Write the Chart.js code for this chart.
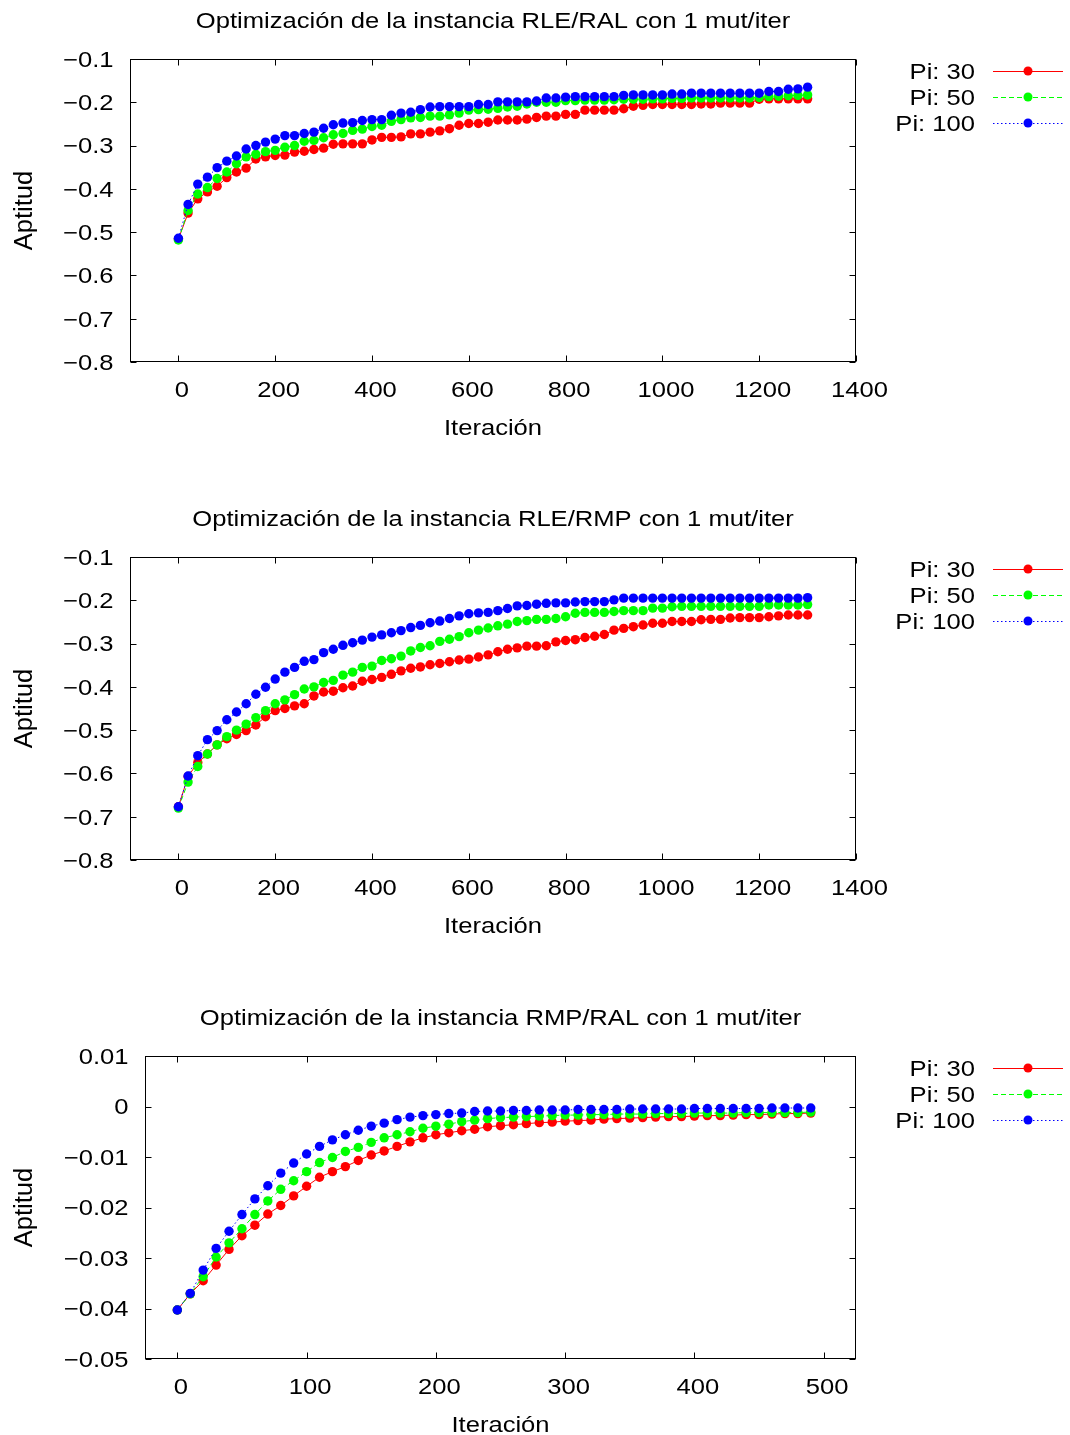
<!DOCTYPE html>
<html><head><meta charset="utf-8">
<script src="https://cdn.jsdelivr.net/npm/chart.js@4/dist/chart.umd.min.js"></script>
<style>
html,body{margin:0;padding:0;background:#fff;overflow:hidden;width:1070px;height:1435px}
canvas.c{position:absolute;left:0}
</style></head><body>
<canvas id="c1" class="c" width="1070" height="498" style="top:0px"></canvas>
<canvas id="c2" class="c" width="1070" height="498" style="top:498px"></canvas>
<canvas id="c3" class="c" width="1070" height="438" style="top:997px"></canvas>
<script>
// ---------- DATA ----------
const seriesLabels = ['Pi: 30', 'Pi: 50', 'Pi: 100'];

const iterLong = [0,20,40,60,80,100,120,140,160,180,200,220,240,260,280,300,320,340,360,380,400,420,440,460,480,500,520,540,560,580,600,620,640,660,680,700,720,740,760,780,800,820,840,860,880,900,920,940,960,980,1000,1020,1040,1060,1080,1100,1120,1140,1160,1180,1200,1220,1240,1260,1280,1300];
const iterShort = [0,10,20,30,40,50,60,70,80,90,100,110,120,130,140,150,160,170,180,190,200,210,220,230,240,250,260,270,280,290,300,310,320,330,340,350,360,370,380,390,400,410,420,430,440,450,460,470,480,490];

// RLE/RAL
const rleRal30 = [-0.516,-0.456,-0.423,-0.407,-0.394,-0.374,-0.361,-0.352,-0.331,-0.326,
 -0.323,-0.322,-0.315,-0.313,-0.309,-0.306,-0.297,-0.296,-0.296,-0.296,
 -0.287,-0.281,-0.281,-0.280,-0.273,-0.273,-0.269,-0.266,-0.261,-0.253,
 -0.249,-0.249,-0.246,-0.241,-0.241,-0.241,-0.239,-0.235,-0.232,-0.232,
 -0.228,-0.228,-0.218,-0.218,-0.218,-0.218,-0.215,-0.209,-0.207,-0.205,
 -0.205,-0.205,-0.205,-0.205,-0.204,-0.204,-0.202,-0.202,-0.202,-0.202,
 -0.193,-0.192,-0.192,-0.192,-0.192,-0.192];
const rleRal50 = [-0.518,-0.450,-0.412,-0.397,-0.376,-0.361,-0.342,-0.326,-0.320,-0.314,
 -0.311,-0.304,-0.300,-0.290,-0.288,-0.282,-0.275,-0.272,-0.265,-0.262,
 -0.256,-0.253,-0.244,-0.240,-0.236,-0.235,-0.232,-0.232,-0.229,-0.225,
 -0.218,-0.217,-0.216,-0.214,-0.211,-0.209,-0.204,-0.200,-0.200,-0.200,
 -0.196,-0.196,-0.195,-0.195,-0.195,-0.194,-0.193,-0.193,-0.193,-0.192,
 -0.192,-0.191,-0.191,-0.190,-0.190,-0.190,-0.190,-0.190,-0.190,-0.190,
 -0.189,-0.187,-0.186,-0.185,-0.184,-0.183];
const rleRal100 = [-0.514,-0.436,-0.389,-0.373,-0.351,-0.336,-0.324,-0.308,-0.300,-0.292,
 -0.285,-0.277,-0.277,-0.272,-0.269,-0.260,-0.252,-0.248,-0.247,-0.242,
 -0.240,-0.240,-0.230,-0.225,-0.223,-0.217,-0.211,-0.210,-0.210,-0.210,
 -0.210,-0.205,-0.205,-0.199,-0.199,-0.199,-0.199,-0.197,-0.190,-0.190,
 -0.188,-0.187,-0.187,-0.187,-0.187,-0.187,-0.184,-0.183,-0.183,-0.183,
 -0.183,-0.181,-0.181,-0.179,-0.179,-0.179,-0.179,-0.179,-0.179,-0.179,
 -0.179,-0.175,-0.175,-0.170,-0.169,-0.165];

// RLE/RMP
const rleRmp30 = [-0.677,-0.607,-0.575,-0.555,-0.534,-0.520,-0.510,-0.501,-0.488,-0.469,
 -0.455,-0.450,-0.444,-0.439,-0.421,-0.412,-0.410,-0.402,-0.398,-0.387,
 -0.383,-0.378,-0.371,-0.363,-0.357,-0.354,-0.349,-0.346,-0.342,-0.338,
 -0.336,-0.331,-0.326,-0.319,-0.313,-0.310,-0.306,-0.306,-0.305,-0.296,
 -0.293,-0.291,-0.286,-0.283,-0.279,-0.269,-0.265,-0.261,-0.257,-0.253,
 -0.253,-0.249,-0.249,-0.249,-0.245,-0.244,-0.244,-0.241,-0.240,-0.240,
 -0.240,-0.238,-0.236,-0.234,-0.234,-0.234];
const rleRmp50 = [-0.680,-0.620,-0.584,-0.555,-0.534,-0.515,-0.500,-0.486,-0.471,-0.455,
 -0.439,-0.430,-0.418,-0.405,-0.400,-0.390,-0.385,-0.373,-0.366,-0.355,
 -0.352,-0.339,-0.335,-0.329,-0.317,-0.309,-0.305,-0.295,-0.290,-0.284,
 -0.275,-0.269,-0.264,-0.259,-0.255,-0.249,-0.247,-0.244,-0.244,-0.242,
 -0.238,-0.230,-0.228,-0.228,-0.228,-0.226,-0.224,-0.224,-0.224,-0.218,
 -0.218,-0.215,-0.214,-0.214,-0.214,-0.214,-0.214,-0.214,-0.214,-0.214,
 -0.214,-0.211,-0.211,-0.211,-0.211,-0.210];
const rleRmp100 = [-0.677,-0.606,-0.559,-0.522,-0.501,-0.476,-0.458,-0.439,-0.417,-0.401,
 -0.382,-0.366,-0.355,-0.341,-0.337,-0.321,-0.313,-0.304,-0.298,-0.292,
 -0.285,-0.280,-0.275,-0.270,-0.263,-0.258,-0.252,-0.248,-0.242,-0.236,
 -0.231,-0.229,-0.228,-0.224,-0.219,-0.213,-0.212,-0.209,-0.207,-0.206,
 -0.206,-0.204,-0.203,-0.203,-0.203,-0.199,-0.195,-0.195,-0.195,-0.195,
 -0.195,-0.195,-0.195,-0.195,-0.195,-0.195,-0.195,-0.195,-0.195,-0.195,
 -0.195,-0.195,-0.195,-0.195,-0.195,-0.194];

// RMP/RAL
const rmpRal30 = [-0.0403,-0.0371,-0.0345,-0.0314,-0.0283,-0.0256,-0.0235,-0.0213,-0.0196,-0.0177,
 -0.0158,-0.0140,-0.0129,-0.0119,-0.0107,-0.0096,-0.0088,-0.0079,-0.0070,-0.0062,
 -0.0056,-0.0052,-0.0048,-0.0045,-0.0040,-0.0038,-0.0036,-0.0034,-0.0032,-0.0031,
 -0.0029,-0.0028,-0.0027,-0.0025,-0.0024,-0.0023,-0.0022,-0.0021,-0.0020,-0.0020,
 -0.0019,-0.0018,-0.0018,-0.0017,-0.0016,-0.0016,-0.0015,-0.0014,-0.0014,-0.0013];
const rmpRal50 = [-0.0403,-0.0371,-0.0337,-0.0298,-0.0270,-0.0242,-0.0214,-0.0187,-0.0164,-0.0147,
 -0.0129,-0.0111,-0.0101,-0.0089,-0.0081,-0.0071,-0.0062,-0.0056,-0.0050,-0.0043,
 -0.0039,-0.0035,-0.0030,-0.0027,-0.0024,-0.0022,-0.0021,-0.0020,-0.0019,-0.0018,
 -0.0017,-0.0017,-0.0016,-0.0016,-0.0015,-0.0015,-0.0015,-0.0014,-0.0014,-0.0014,
 -0.0013,-0.0013,-0.0013,-0.0013,-0.0012,-0.0012,-0.0012,-0.0012,-0.0012,-0.0011];
const rmpRal100 = [-0.0403,-0.0370,-0.0324,-0.0281,-0.0247,-0.0214,-0.0183,-0.0157,-0.0132,-0.0112,
 -0.0094,-0.0079,-0.0066,-0.0056,-0.0047,-0.0039,-0.0033,-0.0026,-0.0021,-0.0018,
 -0.0016,-0.0014,-0.0013,-0.0010,-0.0009,-0.0009,-0.0008,-0.0008,-0.0007,-0.0007,
 -0.0007,-0.0006,-0.0006,-0.0006,-0.0006,-0.0005,-0.0005,-0.0005,-0.0005,-0.0005,
 -0.0004,-0.0004,-0.0004,-0.0004,-0.0004,-0.0004,-0.0003,-0.0003,-0.0003,-0.0003];

// ticks
const xTicksLong = [0,200,400,600,800,1000,1200,1400];
const xLabelsLong = ['0','200','400','600','800','1000','1200','1400'];
const yTicksRle = [-0.8,-0.7,-0.6,-0.5,-0.4,-0.3,-0.2,-0.1];
const yLabelsRle = ['\u22120.8','\u22120.7','\u22120.6','\u22120.5','\u22120.4','\u22120.3','\u22120.2','\u22120.1'];
const xTicksShort = [0,100,200,300,400,500];
const xLabelsShort = ['0','100','200','300','400','500'];
const yTicksRmp = [-0.05,-0.04,-0.03,-0.02,-0.01,0,0.01];
const yLabelsRmp = ['\u22120.05','\u22120.04','\u22120.03','\u22120.02','\u22120.01','0','0.01'];

const titles = ['Optimización de la instancia RLE/RAL con 1 mut/iter',
                'Optimización de la instancia RLE/RMP con 1 mut/iter',
                'Optimización de la instancia RMP/RAL con 1 mut/iter'];
const xTitle = 'Iteración';
const yTitle = 'Aptitud';

// ---------- STYLE ----------
const FONT = '"Liberation Sans", Arial, Helvetica, sans-serif';
const FS = 21.5;     // font size
const SX = 1.19;     // horizontal stretch of gnuplot text
const DY = 2;        // baseline correction
const colors = ['#ff0000', '#00ff00', '#0000ff'];
const dashes = [[], [5, 3], [1.5, 2.5]];

function txt(ctx, s, x, y, align, size, sx, rot) {
  ctx.save();
  ctx.translate(x, y);
  if (rot) ctx.rotate(rot);
  ctx.scale(sx, 1);
  ctx.font = size + 'px ' + FONT;
  ctx.textAlign = align;
  ctx.textBaseline = 'middle';
  ctx.fillStyle = '#000';
  ctx.fillText(s, 0, 0);
  ctx.restore();
}

const gnuplotFrame = {
  id: 'gp',
  beforeDatasetsDraw(chart, args, o) {
    const ctx = chart.ctx, a = chart.chartArea, xs = chart.scales.x, ys = chart.scales.y;
    ctx.save();
    ctx.strokeStyle = '#000'; ctx.lineWidth = 1; ctx.setLineDash([]);
    const L = Math.round(a.left) + 0.5, R = Math.round(a.right) - 0.5,
          T = Math.round(a.top) + 0.5, B = Math.round(a.bottom) - 0.5;
    ctx.strokeRect(L, T, R - L, B - T);
    ctx.beginPath();
    ys.ticks.forEach(t => {
      const py = Math.round(ys.getPixelForValue(t.value)) + 0.5;
      ctx.moveTo(L, py); ctx.lineTo(L + 6, py);
      ctx.moveTo(R, py); ctx.lineTo(R - 6, py);
    });
    xs.ticks.forEach(t => {
      const px = Math.round(xs.getPixelForValue(t.value)) + 0.5;
      ctx.moveTo(px, B); ctx.lineTo(px, B - 6);
      ctx.moveTo(px, T); ctx.lineTo(px, T + 6);
    });
    ctx.stroke();
    ctx.restore();
  },
  afterDraw(chart, args, o) {
    const ctx = chart.ctx, a = chart.chartArea, xs = chart.scales.x, ys = chart.scales.y;
    const cx = (a.left + a.right) / 2, cy = (a.top + a.bottom) / 2;
    // title
    txt(ctx, o.title, cx, a.top - 39 + DY, 'center', FS, SX);
    // y tick labels
    ys.ticks.forEach((t, i) => {
      txt(ctx, o.yLabels[i], a.left - 16.5, ys.getPixelForValue(t.value) + DY, 'right', FS, SX);
    });
    // x tick labels
    xs.ticks.forEach((t, i) => {
      txt(ctx, o.xLabels[i], xs.getPixelForValue(t.value) + 3.5, a.bottom + 27 + DY, 'center', FS, SX);
    });
    // axis titles
    txt(ctx, xTitle, cx, a.bottom + 65 + DY, 'center', FS, SX);
    txt(ctx, yTitle, 25, cy, 'center', 25.5, 1, -Math.PI / 2);
    // legend
    chart.data.datasets.forEach((ds, i) => {
      const ly = a.top + 12 + 26 * i;
      txt(ctx, ds.label, 975, ly + DY, 'right', FS, SX);
      ctx.save();
      ctx.strokeStyle = ds.borderColor; ctx.lineWidth = 1; ctx.setLineDash(ds.borderDash);
      ctx.beginPath(); ctx.moveTo(993, Math.round(ly) + 0.5); ctx.lineTo(1063, Math.round(ly) + 0.5); ctx.stroke();
      ctx.setLineDash([]);
      ctx.fillStyle = ds.backgroundColor;
      ctx.beginPath(); ctx.arc(1028, ly, 4.5, 0, Math.PI * 2); ctx.fill();
      ctx.restore();
    });
  }
};

function makeChart(id, iters, seriesList, xMin, xMax, xTicks, xLabels, yMin, yMax, yTicks, yLabels, title, leftW, axisH) {
  const datasets = seriesList.map((vals, i) => ({
    label: seriesLabels[i],
    data: iters.map((v, k) => ({ x: v, y: vals[k] })),
    borderColor: colors[i],
    backgroundColor: colors[i],
    pointBackgroundColor: colors[i],
    borderWidth: 1,
    borderDash: dashes[i],
    pointRadius: 4.7,
    pointBorderWidth: 0,
    pointHoverRadius: 4.7,
    tension: 0,
    order: 3 - i
  }));
  return new Chart(document.getElementById(id), {
    type: 'line',
    data: { datasets },
    plugins: [gnuplotFrame],
    options: {
      responsive: false,
      animation: false,
      devicePixelRatio: 1,
      events: [],
      layout: { padding: { left: 0, right: 214, top: 59, bottom: 0 } },
      plugins: {
        legend: { display: false },
        tooltip: { enabled: false },
        title: { display: false },
        gp: { title, xLabels, yLabels }
      },
      scales: {
        x: {
          type: 'linear', min: xMin, max: xMax,
          afterBuildTicks: s => { s.ticks = xTicks.map(v => ({ value: v })); },
          afterFit: s => { s.height = axisH; },
          grid: { display: false, drawTicks: false },
          border: { display: false },
          ticks: { display: false }
        },
        y: {
          type: 'linear', min: yMin, max: yMax,
          afterBuildTicks: s => { s.ticks = yTicks.map(v => ({ value: v })); },
          afterFit: s => { s.width = leftW; },
          grid: { display: false, drawTicks: false },
          border: { display: false },
          ticks: { display: false }
        }
      }
    }
  });
}

makeChart('c1', iterLong, [rleRal30, rleRal50, rleRal100], -100, 1400, xTicksLong, xLabelsLong,
          -0.8, -0.1, yTicksRle, yLabelsRle, titles[0], 130, 136);
makeChart('c2', iterLong, [rleRmp30, rleRmp50, rleRmp100], -100, 1400, xTicksLong, xLabelsLong,
          -0.8, -0.1, yTicksRle, yLabelsRle, titles[1], 130, 136);
makeChart('c3', iterShort, [rmpRal30, rmpRal50, rmpRal100], -25, 525, xTicksShort, xLabelsShort,
          -0.05, 0.01, yTicksRmp, yLabelsRmp, titles[2], 145, 76);
</script>
</body></html>
